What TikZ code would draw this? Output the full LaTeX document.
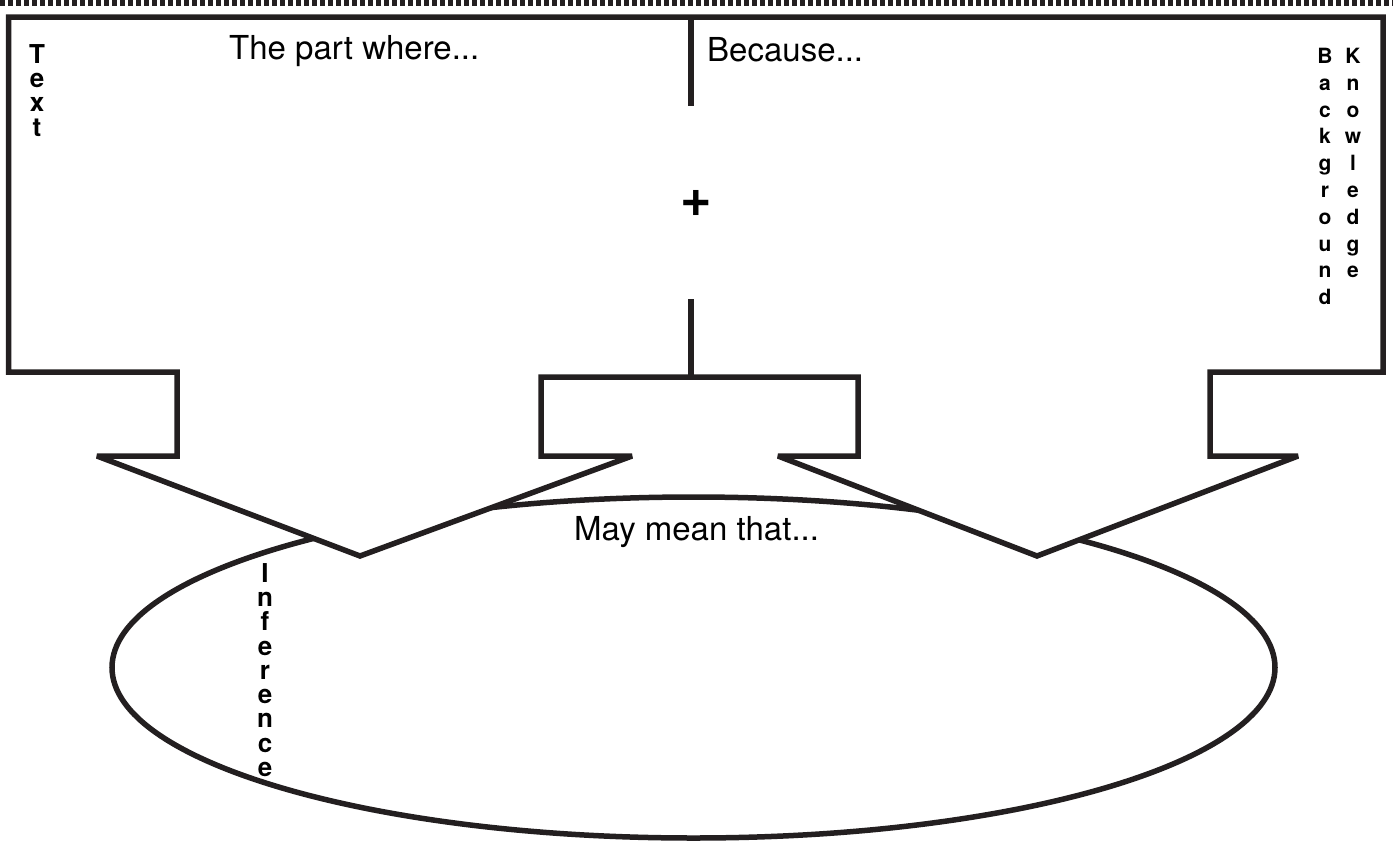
\documentclass[tikz,border=0pt]{standalone}
\usepackage{fontspec}
\setmainfont{TeX Gyre Heros}
\definecolor{inkline}{RGB}{35,31,32}
\begin{document}
\begin{tikzpicture}
  [
  x=1pt,y=-1pt,
  outline/.style={draw=inkline,line width=5.5pt,line join=miter,miter limit=4},
  prompt/.style={anchor=base west,inner sep=0pt,font=\fontsize{33}{38}\selectfont},
  sidebig/.style={anchor=north,inner sep=0pt,align=center,font=\bfseries\fontsize{26}{24.3}\selectfont},
  sidesmall/.style={anchor=north,inner sep=0pt,align=center,font=\bfseries\fontsize{21}{26.8}\selectfont}
  ]
  \useasboundingbox (0,0) rectangle (1393,844);
  \coordinate (dashL) at (0,3);
  \coordinate (dashR) at (1393,3);
  \draw [draw=inkline,line width=5.5pt,dash pattern=on 5pt off 3pt] (dashL) -- (dashR);
  % inference ellipse, under the arrows
  \draw [outline] (693.5,667.5) ellipse [x radius=581.5pt, y radius=170.5pt];
  % frame with the three arrows
  \draw [outline,fill=white] (8.5,17) -- (1383,17) -- (1383,372) -- (1210,372)
    -- (1210,456) -- (1298,456) -- (1037,556) -- (778,456) -- (858,456)
    -- (858,377) -- (541,377) -- (541,456) -- (632,456) -- (360,556)
    -- (97,456) -- (177,456) -- (177,372) -- (8.5,372) -- cycle;
  \coordinate (divtop) at (691,17);
  \coordinate (divmid) at (691,106);
  \coordinate (joinup) at (691,299);
  \coordinate (joindown) at (691,377);
  \draw [outline] (divtop) -- (divmid);
  \draw [outline] (joinup) -- (joindown);
  \node (plus) at (696,203) [inner sep=0pt,font=\bfseries\fontsize{54}{60}\selectfont] {+};
  \node (partwhere) at (229,59) [prompt] {The part where...};
  \node (because) at (707,61) [prompt] {Because...};
  \node (maymean) at (574,540) [prompt] {May mean that...};
  \node (textword) at (37,44) [sidebig] {T\\e\\x\\t};
  \node (infword) at (265,563) [sidebig] {I\\n\\f\\e\\r\\e\\n\\c\\e};
  \node (bgword) at (1325,48) [sidesmall] {B\\a\\c\\k\\g\\r\\o\\u\\n\\d};
  \node (kwword) at (1353,48) [sidesmall] {K\\n\\o\\w\\l\\e\\d\\g\\e};
\end{tikzpicture}
\end{document}
